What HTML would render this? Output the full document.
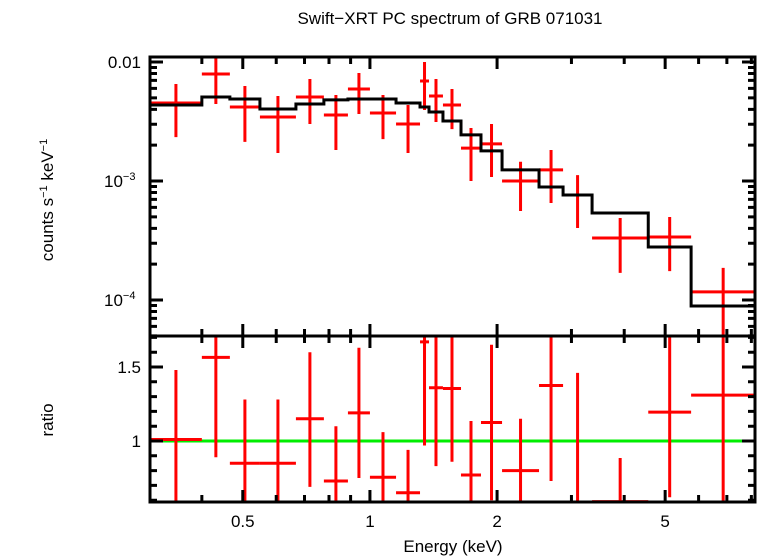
<!DOCTYPE html>
<html><head><meta charset="utf-8"><style>
html,body{margin:0;padding:0;background:#fff;}
svg{display:block;font-family:"Liberation Sans",sans-serif;}
</style></head><body>
<svg id="chart" width="758" height="556" viewBox="0 0 758 556" xmlns="http://www.w3.org/2000/svg">
<text x="450" y="24" font-size="17" text-anchor="middle">Swift−XRT PC spectrum of GRB 071031</text>
<g id="topPanel"></g>
<g id="botPanel"></g>
<g id="axesGroup"></g>
<text x="53" y="200" font-size="17" text-anchor="middle" transform="rotate(-90 53 200)">counts s<tspan dy="-6" font-size="11">−1</tspan><tspan dy="6"> keV</tspan><tspan dy="-6" font-size="11">−1</tspan></text>
<text x="53" y="420" font-size="17" text-anchor="middle" transform="rotate(-90 53 420)">ratio</text>
<text x="453" y="552" font-size="17" text-anchor="middle">Energy (keV)</text>
</svg>
<script>
const binEdges=[0.3015,0.400,0.466,0.549,0.668,0.778,0.887,1.0,1.153,1.314,1.380,1.489,1.643,1.832,2.055,2.514,2.866,3.357,4.56,5.76,8.17];
const counts=[4.52e-3,7.93e-3,4.19e-3,3.45e-3,5.08e-3,3.59e-3,5.93e-3,3.73e-3,3.01e-3,6.92e-3,5.18e-3,4.35e-3,1.89e-3,2.05e-3,1.0e-3,1.24e-3,7.62e-4,3.32e-4,3.38e-4,1.17e-4];
const countsHi=[6.53e-3,1.146e-2,6.28e-3,5.18e-3,7.2e-3,5.28e-3,8.09e-3,5.28e-3,4.35e-3,1.0e-2,7.2e-3,5.93e-3,2.79e-3,3.01e-3,1.45e-3,1.82e-3,1.12e-3,4.89e-4,4.98e-4,1.86e-4];
const countsLo=[2.34e-3,4.44e-3,2.13e-3,1.72e-3,3.01e-3,1.82e-3,3.66e-3,2.25e-3,1.72e-3,3.95e-3,3.13e-3,2.73e-3,1.0e-3,1.08e-3,5.6e-4,6.53e-4,4.03e-4,1.69e-4,1.75e-4,3e-5];
const model=[4.35e-3,5.08e-3,4.89e-3,4.03e-3,4.44e-3,4.80e-3,4.89e-3,4.89e-3,4.52e-3,4.19e-3,3.80e-3,3.19e-3,2.44e-3,1.79e-3,1.24e-3,8.9e-4,7.62e-4,5.38e-4,2.79e-4,8.9e-5];
const ratio=[1.01,1.565,0.85,0.85,1.15,0.73,1.19,0.755,0.65,1.67,1.36,1.355,0.77,1.125,0.80,1.375,0.45,0.59,1.195,1.31];
const ratioHi=[1.48,1.75,1.28,1.28,1.60,1.10,1.63,1.06,0.94,1.8,1.8,1.8,1.135,1.65,1.15,1.8,1.46,0.885,1.8,1.8];
const ratioLo=[0.5,0.89,0.5,0.5,0.69,0.5,0.75,0.5,0.5,0.97,0.83,0.86,0.5,0.6,0.5,0.73,0.5,0.5,0.62,0.5];
const xTickLabels=[0.5,1,2,5];
const yTickLabels=[0.01,0.001,0.0001];
const ratioTickLabels=[1.5,1];

const L=150,R=755,T=57,M=336,B=502;
const xMin=0.3015,xMax=8.16;
const X=e=>L+(R-L)*(Math.log10(e)-Math.log10(xMin))/(Math.log10(xMax)-Math.log10(xMin));
const Y=v=>62+119*(-2-Math.log10(v));
const YR=r=>441-(r-1)*148;
const NS="http://www.w3.org/2000/svg";
function mk(tag,attrs,parent){const el=document.createElementNS(NS,tag);for(const k in attrs)el.setAttribute(k,attrs[k]);parent.appendChild(el);return el;}
const topG=document.getElementById('topPanel'),botG=document.getElementById('botPanel'),axesG=document.getElementById('axesGroup');

const defs=mk('defs',{},document.getElementById('chart'));
const c1=mk('clipPath',{id:'ct'},defs);mk('rect',{x:L,y:T,width:R-L,height:M-T},c1);
const c2=mk('clipPath',{id:'cb'},defs);mk('rect',{x:L,y:M,width:R-L,height:B-M},c2);
topG.setAttribute('clip-path','url(#ct)');botG.setAttribute('clip-path','url(#cb)');

const g=mk('line',{x1:L,x2:R,y1:YR(1),y2:YR(1),stroke:'#00ee00','stroke-width':3},botG);



for(let i=0;i<counts.length;i++){
  const x0=X(binEdges[i]),x1=X(binEdges[i+1]),xc=(x0+x1)/2;
  const p=mk('path',{d:`M${x0} ${Y(counts[i])}L${x1} ${Y(counts[i])}M${xc} ${Y(countsHi[i])}L${xc} ${Y(countsLo[i])}`,stroke:'#ff0000','stroke-width':3,fill:'none'},topG);
  
  
  const q=mk('path',{d:`M${x0} ${YR(ratio[i])}L${x1} ${YR(ratio[i])}M${xc} ${YR(ratioHi[i])}L${xc} ${YR(ratioLo[i])}`,stroke:'#ff0000','stroke-width':3,fill:'none'},botG);
  
  
}

let d='';
for(let i=0;i<model.length;i++){const x0=X(binEdges[i]),x1=X(binEdges[i+1]),y=Y(model[i]);d+=(i?'L':'M')+x0+' '+y+'L'+x1+' '+y;}
const mp=mk('path',{d:d,fill:'none',stroke:'#000','stroke-width':3},topG);



for(const [y0,y1] of [[T,M],[M,B]]){
  const f=mk('rect',{x:L,y:y0,width:R-L,height:y1-y0,fill:'none',stroke:'#000','stroke-width':3},axesG);
  
  
}
let td='';
const minorX=[0.4,0.6,0.7,0.8,0.9,3,4,6,7,8];
for(const [ya,yb] of [[T,M],[M,B]]){
  for(const e of xTickLabels){const x=X(e);td+=`M${x} ${ya}l0 12M${x} ${yb}l0 -12`;}
  for(const e of minorX){const x=X(e);td+=`M${x} ${ya}l0 7M${x} ${yb}l0 -7`;}
}
for(const v of yTickLabels){const y=Y(v);td+=`M${L} ${y}l13 0M${R} ${y}l-13 0`;}
for(let dec=-5;dec<=-2;dec++)for(let m=2;m<=9;m++){const v=m*Math.pow(10,dec);const y=Y(v);if(y>T&&y<M)td+=`M${L} ${y}l7 0M${R} ${y}l-7 0`;}
for(let k=6;k<=17;k++){const r=k/10;const y=YR(r);if(y>M&&y<B){const len=(k%5===0)?13:7;td+=`M${L} ${y}l${len} 0M${R} ${y}l${-len} 0`;}}
const tp=mk('path',{d:td,stroke:'#000','stroke-width':3,fill:'none'},axesG);



for(const e of xTickLabels){const t=mk('text',{x:X(e),y:527,'font-size':17,'text-anchor':'middle'},axesG);t.textContent=String(e);
  
  }
const ye=['','−3','−4'];
yTickLabels.forEach((v,i)=>{const t=mk('text',{x:141,y:Y(v)+6,'font-size':17,'text-anchor':'end'},axesG);
  
  
  if(i===0)t.textContent='0.01';else{t.textContent='10';const s=mk('tspan',{dy:-7,'font-size':11},t);s.textContent=ye[i];t.setAttribute('x',104);t.setAttribute('text-anchor','start');}
});
for(const r of ratioTickLabels){const t=mk('text',{x:141,y:YR(r)+6,'font-size':17,'text-anchor':'end'},axesG);t.textContent=String(r);
  
  }
</script>
</body></html>
